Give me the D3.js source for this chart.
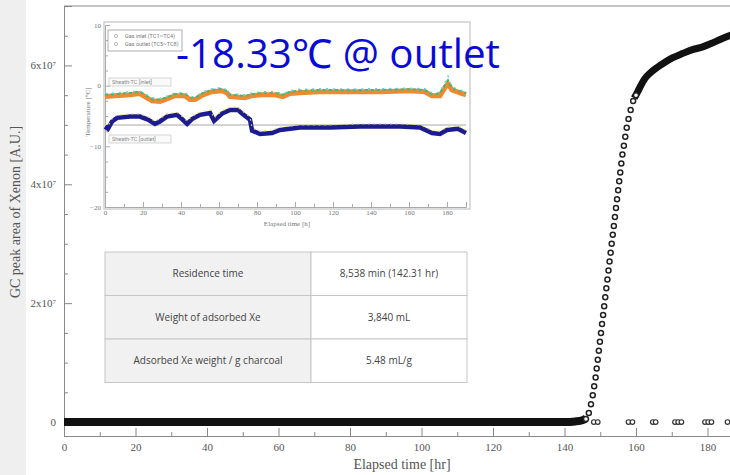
<!DOCTYPE html>
<html><head><meta charset="utf-8">
<script src="https://cdn.jsdelivr.net/npm/d3@7"></script>
<style>
html,body{margin:0;padding:0;background:#fff;}
svg{display:block;}
</style></head>
<body>
<svg id="c" width="730" height="475"></svg>
<script>
// ---------- DATA ----------
// main series: GC peak area of Xe vs elapsed time (hr)
const baseTime = [0, 20, 40, 60, 80, 100, 120, 140, 143, 145, 146];
const baseArea = [0, 0, 0, 0, 0, 0, 0, 0, 1e5, 3e5, 6e5];
const riseTime = [146.0,146.8,147.4,147.9,148.3,148.7,149.0,149.3,149.6,149.9,150.2,150.5,150.8,151.1,151.4,151.7,152.0,152.3,152.6,152.9,153.2,153.5,153.8,154.1,154.4,154.7,155.0,155.3,155.6,155.9,156.2,156.6,157.0,157.4,157.9,158.5,159.2,160.0];
const riseArea = [0.05,0.15,0.3,0.45,0.6,0.75,0.9,1.05,1.2,1.35,1.5,1.65,1.8,1.95,2.1,2.25,2.4,2.55,2.7,2.85,3.0,3.15,3.3,3.45,3.6,3.75,3.9,4.05,4.2,4.35,4.5,4.65,4.8,4.95,5.1,5.25,5.4,5.5].map(v=>v*1e7);
const plateauTime = [159.5,160.5,161.5,162.5,163.9,166,168,170.3,173,176,178,181,184,187,190];
const plateauArea = [5.45,5.56,5.68,5.78,5.87,5.97,6.05,6.13,6.2,6.27,6.3,6.37,6.45,6.52,6.58].map(v=>v*1e7);
const lowTime = [148.2,149.3,157.9,159.0,164.7,165.5,170.9,171.8,172.7,179.3,180.2,181.1,185.6];
const lowArea = [0,0,0,0,0,0,0,0,0,0,0,0,0];
const yTicks = [0, 2e7, 4e7, 6e7];
const yTickLabels = ["0", "2x10|7", "4x10|7", "6x10|7"];
const xTicks = [0, 20, 40, 60, 80, 100, 120, 140, 160, 180];

// inset: temperatures vs elapsed time (h)
const insetTime = [0,5.3,13.2,18.4,21,24.7,28.9,32.6,36.8,42.1,44.7,47.4,51.6,56.3,61.6,64.2,65.8,73.7,77.4,82.6,89.5,93.7,97.4,102.6,113,129,144.7,160.5,168.4,172,176.3,179,180.5,182.6,186.8,190];
const orangeT = [-1.8,-1.65,-1.5,-1.3,-1.8,-2.5,-2.6,-2.2,-1.65,-1.65,-2.3,-2.3,-1.5,-1.0,-0.85,-1.2,-1.8,-2.0,-1.65,-1.5,-1.5,-1.8,-1.3,-1.15,-1.0,-1.0,-1.0,-0.85,-1.0,-1.65,-1.65,-0.3,0.3,-0.7,-1.2,-1.5];
const greenT  = [-1.5,-1.4,-1.2,-1.0,-1.5,-2.2,-2.3,-1.9,-1.4,-1.3,-2.0,-2.0,-1.2,-0.7,-0.5,-0.9,-1.5,-1.7,-1.4,-1.2,-1.2,-1.5,-1.0,-0.8,-0.7,-0.75,-0.7,-0.6,-0.7,-1.4,-1.3,0.2,0.9,-0.4,-0.9,-1.2];
const cyanT   = [-1.3,-1.2,-1.0,-0.9,-1.3,-2.0,-2.1,-1.7,-1.2,-1.1,-1.8,-1.8,-1.0,-0.5,-0.3,-0.7,-1.3,-1.5,-1.2,-1.0,-1.0,-1.3,-0.8,-0.6,-0.5,-0.55,-0.5,-0.4,-0.5,-1.2,-1.1,0.6,1.6,-0.2,-0.7,-1.0];
const blueTime = [0,1.6,3.7,6.3,13.2,18.4,22.6,26.3,28.9,32.6,37.9,40.5,43.2,45.8,50,55.3,57.4,61.6,65.8,70,72.1,76.3,77.4,81.6,87.9,92.1,97.4,102.6,118.4,134.2,155.3,165.8,172.1,176.3,180,185.8,190];
const blueT = [-6.75,-7.1,-5.9,-5.3,-5.1,-5.1,-5.6,-6.3,-5.9,-5.1,-4.8,-5.5,-6.3,-5.5,-4.8,-4.5,-5.8,-4.6,-4.0,-4.0,-4.6,-5.6,-7.4,-7.95,-7.8,-7.3,-7.1,-6.9,-6.9,-6.75,-6.75,-6.9,-7.8,-7.95,-7.3,-7.1,-7.8];
const refTime = [0, 190];
const refT = [-6.5, -6.5];
const insetYTicks = [-20, -10, 0, 10];
const insetXTicks = [0, 20, 40, 60, 80, 100, 120, 140, 160, 180];

const tableRows = [
  ["Residence time", "8,538 min (142.31 hr)"],
  ["Weight of adsorbed Xe", "3,840 mL"],
  ["Adsorbed Xe weight / g charcoal", "5.48 mL/g"]
];
const bigLabel = "-18.33℃ @ outlet";

// ---------- DRAW ----------
const svg = d3.select("#c");
svg.append("rect").attr("width",730).attr("height",475).attr("fill","#fff");
svg.append("rect").attr("width",26).attr("height",475).attr("fill","#efefef");

const x = d3.scaleLinear().domain([0,190]).range([64, 64+190*3.575]);
const y = d3.scaleLinear().domain([-2.35e6, 7e7]).range([436, 6]);
const serif = "'Liberation Serif','DejaVu Serif',serif";

// frame
svg.append("line").attr("x1",64).attr("x2",730).attr("y1",6).attr("y2",6).attr("stroke","#888").attr("stroke-width",1);

// axes
const gy = svg.append("g").attr("transform","translate(64,0)")
  .call(d3.axisLeft(y).tickValues(yTicks).tickSize(-8).tickPadding(8).tickFormat((d,i)=>yTickLabels[i]));
svg.append("g").attr("transform","translate(64,0)")
  .call(d3.axisLeft(y).tickValues(d3.range(0,7.01e7,5e6).filter(v=>v%2e7!==0)).tickSize(-4).tickFormat(""))
  .call(g=>g.select(".domain").remove());
gy.selectAll("text").each(function(d,i){
  const parts = yTickLabels[i].split("|");
  const t = d3.select(this); t.text(parts[0]);
  if(parts[1]) t.append("tspan").attr("dy","-0.45em").attr("font-size","7px").text(parts[1]);
});
const gx = svg.append("g").attr("transform","translate(0,436)")
  .call(d3.axisBottom(x).tickValues(xTicks).tickSize(-8).tickPadding(7).tickFormat(d3.format("d")));
svg.append("g").attr("transform","translate(0,436)")
  .call(d3.axisBottom(x).tickValues(d3.range(10,190,20)).tickSize(-4).tickFormat(""))
  .call(g=>g.select(".domain").remove());
svg.selectAll(".tick text").attr("font-family",serif).attr("font-size","11px").attr("fill","#555");
svg.selectAll(".domain").attr("stroke","#888");
svg.selectAll(".tick line").attr("stroke","#888");

svg.append("text").attr("transform","translate(20,212) rotate(-90)").attr("text-anchor","middle")
  .attr("font-family",serif).attr("font-size","14px").attr("fill","#555").text("GC peak area of Xenon [A.U.]");
svg.append("text").attr("x",402).attr("y",469).attr("text-anchor","middle")
  .attr("font-family",serif).attr("font-size","14px").attr("fill","#555").text("Elapsed time [hr]");

// main data
const line = d3.line().x(d=>x(d[0])).y(d=>y(d[1])).curve(d3.curveMonotoneX);
svg.append("clipPath").attr("id","pc").append("rect").attr("x",64).attr("y",6).attr("width",666).attr("height",430);
const pg = svg.append("g").attr("clip-path","url(#pc)");
pg.append("path").datum(baseTime.map((t,i)=>[t,baseArea[i]])).attr("d",line)
  .attr("fill","none").attr("stroke","#111").attr("stroke-width",8);
pg.append("path").datum(plateauTime.map((t,i)=>[t,plateauArea[i]])).attr("d",line)
  .attr("fill","none").attr("stroke","#111").attr("stroke-width",7);
pg.selectAll("circle.r").data(riseTime.map((t,i)=>[t,riseArea[i]])).join("circle").attr("class","r")
  .attr("cx",d=>x(d[0])).attr("cy",d=>y(d[1])).attr("r",2.5)
  .attr("fill","#fff").attr("stroke","#222").attr("stroke-width",1.5);
pg.selectAll("circle.l").data(lowTime.map((t,i)=>[t,lowArea[i]])).join("circle").attr("class","l")
  .attr("cx",d=>x(d[0])).attr("cy",d=>y(d[1])).attr("r",2.3)
  .attr("fill","#fff").attr("stroke","#333").attr("stroke-width",1.2);

// ---------- INSET ----------
const ix = d3.scaleLinear().domain([0,190]).range([105, 466]);
const iy = d3.scaleLinear().domain([-20,10]).range([207, 25]);
const ins = svg.append("g");
ins.append("rect").attr("x",104).attr("y",22).attr("width",366).attr("height",187)
  .attr("fill","#fff").attr("stroke","#d0d0d0").attr("stroke-width",1.5);
ins.append("g").attr("transform","translate(105,0)")
  .call(d3.axisLeft(iy).tickValues(insetYTicks).tickSize(-5).tickPadding(4));
ins.append("g").attr("transform","translate(105,0)")
  .call(d3.axisLeft(iy).tickValues(d3.range(-20,10.1,2.5).filter(v=>v%10!==0)).tickSize(-3).tickFormat(""))
  .call(g=>g.select(".domain").remove());
ins.append("g").attr("transform","translate(0,207)")
  .call(d3.axisBottom(ix).tickValues(insetXTicks).tickSize(-5).tickPadding(3));
ins.append("g").attr("transform","translate(0,207)")
  .call(d3.axisBottom(ix).tickValues(d3.range(10,190,20)).tickSize(-3).tickFormat(""))
  .call(g=>g.select(".domain").remove());
ins.selectAll(".tick text").attr("font-family",serif).attr("font-size","7px").attr("fill","#777");
ins.selectAll(".domain, .tick line").attr("stroke","#aaa");
ins.append("text").attr("transform","translate(90,112) rotate(-90)").attr("text-anchor","middle")
  .attr("font-family",serif).attr("font-size","7px").attr("fill","#777").text("Temperature [°C]");
ins.append("text").attr("x",287).attr("y",226).attr("text-anchor","middle")
  .attr("font-family",serif).attr("font-size","7px").attr("fill","#777").text("Elapsed time [h]");

const il = d3.line().x(d=>ix(d[0])).y(d=>iy(d[1]));
ins.append("path").datum(refTime.map((t,i)=>[t,refT[i]])).attr("d",il)
  .attr("fill","none").attr("stroke","#c4c4c4").attr("stroke-width",1.5);
ins.append("path").datum(insetTime.map((t,i)=>[t,orangeT[i]])).attr("d",il)
  .attr("fill","none").attr("stroke","#f08a30").attr("stroke-width",5);
ins.append("path").datum(insetTime.map((t,i)=>[t,greenT[i]])).attr("d",il)
  .attr("fill","none").attr("stroke","#3cb878").attr("stroke-width",2).attr("stroke-dasharray","3,3");
ins.append("path").datum(insetTime.map((t,i)=>[t,cyanT[i]])).attr("d",il)
  .attr("fill","none").attr("stroke","#5fd0e0").attr("stroke-width",1.4).attr("stroke-dasharray","2,5");
ins.append("path").datum(blueTime.map((t,i)=>[t,blueT[i]])).attr("d",il)
  .attr("fill","none").attr("stroke","#1c1c90").attr("stroke-width",4.5);
ins.append("path").datum(blueTime.map((t,i)=>[t,blueT[i]+0.45])).attr("d",il)
  .attr("fill","none").attr("stroke","#e6d24a").attr("stroke-width",1.2).attr("stroke-dasharray","1.5,4");

// inset legend + labels
ins.append("rect").attr("x",108).attr("y",30).attr("width",74).attr("height",21)
  .attr("fill","#fff").attr("stroke","#999").attr("stroke-width",0.8);
[["Gas inlet (TC1~TC4)",38],["Gas outlet (TC5~TC8)",46]].forEach(([t,yy])=>{
  ins.append("text").attr("x",125).attr("y",yy).attr("font-family","Roboto,sans-serif")
    .attr("font-size","5.5px").attr("fill","#777").text(t);
  ins.append("circle").attr("cx",116).attr("cy",yy-2).attr("r",1.6).attr("fill","none").attr("stroke","#888").attr("stroke-width",0.6);
});
[["Sheath-TC [inlet]",84],["Sheath-TC [outlet]",141]].forEach(([t,yy])=>{
  ins.append("rect").attr("x",109).attr("y",yy-6).attr("width",62).attr("height",8)
    .attr("fill","#fafafa").attr("stroke","#bbb").attr("stroke-width",0.6);
  ins.append("text").attr("x",112).attr("y",yy).attr("font-family","Roboto,sans-serif")
    .attr("font-size","5.5px").attr("fill","#888").text(t);
});

// big label
svg.append("text").attr("x",176).attr("y",68).attr("font-family","'Liberation Sans Narrow','Open Sans',sans-serif")
  .attr("font-size","40px").attr("fill","#0a0ad8").attr("textLength",324).attr("lengthAdjust","spacingAndGlyphs")
  .text(bigLabel);

// ---------- TABLE ----------
const tx0=105, tx1=311, tx2=467, ty0=252, rh=43.5;
const tb = svg.append("g");
tableRows.forEach((r,i)=>{
  const yy = ty0 + i*rh;
  tb.append("rect").attr("x",tx0).attr("y",yy).attr("width",tx1-tx0).attr("height",rh).attr("fill","#f1f1f1").attr("stroke","#c6c6c6");
  tb.append("rect").attr("x",tx1).attr("y",yy).attr("width",tx2-tx1).attr("height",rh).attr("fill","#fff").attr("stroke","#c6c6c6");
  tb.append("text").attr("x",(tx0+tx1)/2).attr("y",yy+rh/2+3.5).attr("text-anchor","middle")
    .attr("font-family","'Open Sans',sans-serif").attr("font-size","10px").attr("fill","#444").text(r[0]);
  tb.append("text").attr("x",(tx1+tx2)/2).attr("y",yy+rh/2+3.5).attr("text-anchor","middle")
    .attr("font-family","'Open Sans',sans-serif").attr("font-size","10px").attr("fill","#444").text(r[1]);
});
</script>
</body></html>
